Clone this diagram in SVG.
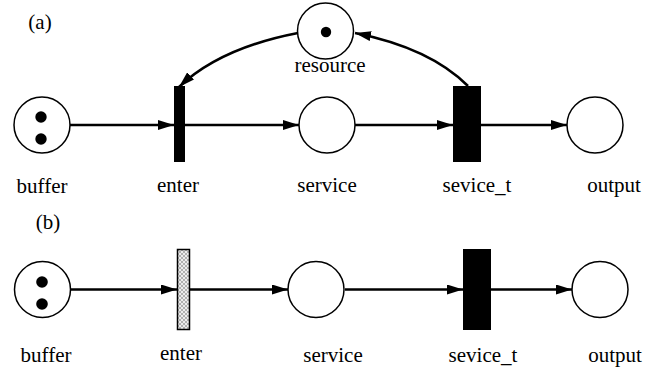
<svg xmlns="http://www.w3.org/2000/svg" width="660" height="371" viewBox="0 0 660 371">
<style>
.pl{fill:#fff;stroke:#000;stroke-width:1.5}
.tk{fill:#000}
.tr{fill:#000}
.arc{fill:none;stroke:#000;stroke-width:2.5;marker-end:url(#ah)}
text{font-family:"Liberation Serif","Times New Roman",serif;font-size:21px;fill:#000;text-anchor:middle}
</style>
<defs>
<marker id="ah" viewBox="0 0 16 10" refX="16" refY="5" markerWidth="16" markerHeight="10" markerUnits="userSpaceOnUse" orient="auto">
<path d="M0,0 L16,5 L0,10 Z" fill="#000"/>
</marker>
<pattern id="hatch" width="4" height="4" patternUnits="userSpaceOnUse">
<rect width="4" height="4" fill="#ececec"/>
<path d="M0,0 L4,4 M4,0 L0,4" stroke="#888" stroke-width="0.6"/>
</pattern>
</defs>
<text x="40" y="29">(a)</text>
<text x="48" y="229">(b)</text>
<g id="connectors">
<line class="arc" x1="70" y1="125" x2="174" y2="125"/>
<line class="arc" x1="185" y1="125" x2="299" y2="125"/>
<line class="arc" x1="355" y1="125" x2="453" y2="125"/>
<line class="arc" x1="481" y1="125" x2="567" y2="125"/>
<path class="arc" d="M468,86 Q430,48 355,33"/>
<path class="arc" d="M298,33 Q220,48 179,87"/>
<line class="arc" x1="71" y1="289.5" x2="177" y2="289.5"/>
<line class="arc" x1="190" y1="289.5" x2="288" y2="289.5"/>
<line class="arc" x1="345" y1="289.5" x2="463" y2="289.5"/>
<line class="arc" x1="491" y1="289.5" x2="572" y2="289.5"/>
</g>
<g id="a_buffer"><circle class="pl" cx="42" cy="125" r="28"/><circle class="tk" cx="41" cy="117" r="5.7"/><circle class="tk" cx="41" cy="139" r="5.7"/><text x="42" y="193">buffer</text></g>
<g id="a_enter"><rect class="tr" x="174" y="86" width="11" height="76"/><text x="178" y="192">enter</text></g>
<g id="a_service"><circle class="pl" cx="327" cy="125" r="28"/><text x="327" y="192">service</text></g>
<g id="a_resource"><circle class="pl" cx="325.5" cy="31" r="28"/><circle class="tk" cx="326" cy="32" r="5.2"/><text x="330" y="72">resource</text></g>
<g id="a_sevice_t"><rect class="tr" x="453" y="86" width="28" height="76"/><text x="477" y="192">sevice_t</text></g>
<g id="a_output"><circle class="pl" cx="595" cy="125" r="28"/><text x="614" y="192">output</text></g>
<g id="b_buffer"><circle class="pl" cx="42.5" cy="289.5" r="28"/><circle class="tk" cx="42" cy="282" r="5.8"/><circle class="tk" cx="42" cy="304" r="5.8"/><text x="46" y="362">buffer</text></g>
<g id="b_enter"><rect x="177.5" y="249.5" width="12" height="80" fill="url(#hatch)" stroke="#000" stroke-width="1.5"/><text x="181" y="360">enter</text></g>
<g id="b_service"><circle class="pl" cx="316" cy="289.5" r="28"/><text x="333" y="362">service</text></g>
<g id="b_sevice_t"><rect class="tr" x="463" y="249" width="28" height="81"/><text x="483" y="362">sevice_t</text></g>
<g id="b_output"><circle class="pl" cx="600" cy="289.5" r="28"/><text x="615" y="362">output</text></g>
</svg>
